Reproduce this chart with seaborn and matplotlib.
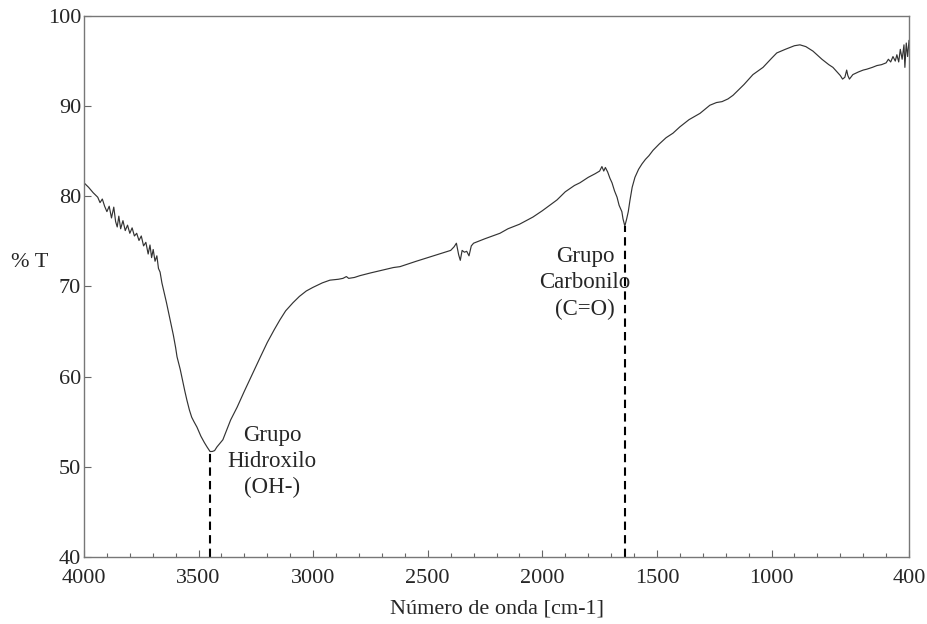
import matplotlib
matplotlib.use("Agg")
import matplotlib.pyplot as plt
from matplotlib.ticker import MultipleLocator
import pandas as pd
import seaborn as sns

wavenumber = [
    4000, 3980, 3960, 3940, 3930, 3920, 3910, 3900, 3890, 3880, 3870, 3862, 3855,
    3848, 3840, 3830, 3820, 3810, 3800, 3790, 3780, 3770, 3760, 3750, 3740, 3730,
    3720, 3712, 3705, 3698, 3690, 3682, 3675, 3668, 3660, 3650, 3640, 3633, 3620,
    3610, 3600, 3594, 3580, 3570, 3560, 3551, 3540, 3530, 3520, 3507, 3490, 3475,
    3463, 3450, 3440, 3430, 3420, 3410, 3394, 3380, 3360, 3332, 3300, 3263, 3230,
    3200, 3170, 3145, 3120, 3088, 3060, 3030, 3001, 2960, 2927, 2890, 2870, 2855,
    2845, 2820, 2796, 2750, 2700, 2650, 2621, 2550, 2500, 2450, 2400, 2385, 2375,
    2365, 2358, 2350, 2340, 2330, 2320, 2310, 2300, 2250, 2185, 2150, 2100, 2041,
    2000, 1936, 1900, 1860, 1836, 1800, 1770, 1750, 1740, 1732, 1725, 1715, 1705,
    1696, 1685, 1674, 1665, 1653, 1648, 1640, 1632, 1625, 1618, 1608, 1596, 1580,
    1565, 1550, 1535, 1517, 1490, 1460, 1430, 1400, 1360, 1312, 1269, 1240, 1216,
    1190, 1168, 1120, 1081, 1037, 1000, 977, 940, 900, 876, 850, 819, 780, 750,
    732, 700, 690, 680, 672, 667, 660, 645, 620, 600, 584, 560, 540, 520, 500,
    490, 480, 470, 460, 453, 445, 438, 430, 422, 418, 412, 406, 400,
]
transmittance = [
    81.5, 81.0, 80.4, 79.9, 79.3, 79.7, 78.9, 78.3, 78.9, 77.6, 78.8, 77.2, 76.6,
    77.8, 76.4, 77.3, 76.2, 76.8, 75.9, 76.5, 75.6, 75.9, 75.1, 75.6, 74.5, 74.9,
    73.6, 74.6, 73.2, 74.1, 72.8, 73.4, 72.0, 71.6, 70.4, 69.3, 68.2, 67.4, 65.8,
    64.6, 63.2, 62.2, 60.8, 59.6, 58.4, 57.4, 56.3, 55.5, 55.0, 54.4, 53.4, 52.7,
    52.2, 51.7, 51.7, 51.8, 52.2, 52.5, 53.0, 53.9, 55.2, 56.6, 58.4, 60.4, 62.2,
    63.8, 65.2, 66.3, 67.3, 68.2, 68.9, 69.5, 69.9, 70.4, 70.7, 70.8, 70.9, 71.1,
    70.9, 71.0, 71.2, 71.5, 71.8, 72.1, 72.2, 72.8, 73.2, 73.6, 74.0, 74.4, 74.8,
    73.5, 72.9, 74.0, 73.8, 73.9, 73.4, 74.5, 74.8, 75.3, 75.9, 76.4, 76.9, 77.7,
    78.4, 79.6, 80.5, 81.2, 81.5, 82.1, 82.5, 82.8, 83.3, 82.8, 83.2, 82.7, 82.0,
    81.5, 80.6, 79.9, 79.0, 78.3, 77.5, 76.7, 77.5, 78.3, 79.5, 81.0, 82.1, 83.0,
    83.6, 84.1, 84.5, 85.1, 85.8, 86.5, 87.0, 87.7, 88.5, 89.2, 90.1, 90.4, 90.5,
    90.8, 91.2, 92.4, 93.5, 94.3, 95.3, 95.9, 96.3, 96.7, 96.8, 96.6, 96.1, 95.2,
    94.6, 94.3, 93.4, 93.0, 93.2, 94.0, 93.4, 93.0, 93.5, 93.8, 94.0, 94.1, 94.3,
    94.5, 94.6, 94.8, 95.2, 94.9, 95.5, 95.0, 95.7, 94.9, 96.3, 95.2, 96.8, 94.3,
    97.0, 95.5, 97.3,
]

# annotated bands: position, minimum, label, label position
band_pos = [3450, 1640]
band_min = [51.6, 76.7]
band_text = ["Grupo\nHidroxilo\n(OH-)", "Grupo\nCarbonilo\n(C=O)"]
text_x = [3180, 1814]
text_y = [50.6, 70.4]

x_ticks = [4000, 3500, 3000, 2500, 2000, 1500, 1000, 400]
y_ticks = [40, 50, 60, 70, 80, 90, 100]

sns.set_style("white")
plt.rcParams["font.family"] = ["Liberation Serif", "DejaVu Serif"]

df = pd.DataFrame({"wn": wavenumber, "T": transmittance})

fig = plt.figure(figsize=(9.27, 6.24), dpi=100)
ax = fig.add_axes([0.0906, 0.1074, 0.89, 0.867])

sns.lineplot(data=df, x="wn", y="T", ax=ax, color="#333333", linewidth=0.85)

for pos, low in zip(band_pos, band_min):
    ax.plot([pos, pos], [40, low], color="black", linestyle=(0, (4, 2.5)), linewidth=1.5)
for t, tx, ty in zip(band_text, text_x, text_y):
    ax.text(tx, ty, t, ha="center", va="center", fontsize=16.5, linespacing=1.33)

ax.set_xlim(4000, 400)
ax.set_ylim(40, 100)
ax.set_xticks(x_ticks)
ax.xaxis.set_minor_locator(MultipleLocator(100))
ax.set_yticks(y_ticks)
ax.tick_params(axis="both", which="major", direction="in", length=5, width=0.8,
               color="#666666", labelsize=16, bottom=True, left=True)
ax.tick_params(axis="x", which="minor", direction="in", length=2.8, width=0.8,
               color="#666666", bottom=True)
ax.tick_params(axis="x", which="major", pad=9)
ax.tick_params(axis="y", pad=2)
for s in ax.spines.values():
    s.set_color("#777777")
    s.set_linewidth(1.0)

ax.set_xlabel("Número de onda [cm-1]", fontsize=16, labelpad=8)
ax.set_ylabel("% T", fontsize=16, rotation=0, ha="center", va="center")
ax.yaxis.set_label_coords(-0.0655, 0.545)

fig.savefig("out.png", dpi=100)
